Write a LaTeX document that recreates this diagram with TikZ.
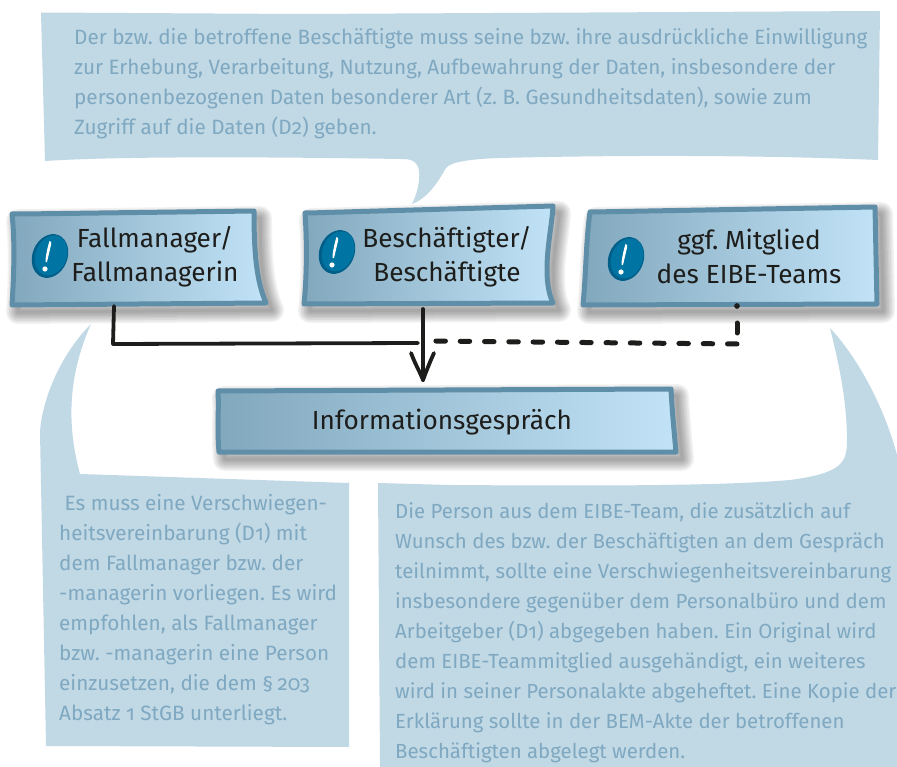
\documentclass[tikz,border=0pt]{standalone}
\usepackage{fontspec}
\setmainfont[Numbers=OldStyle]{Fira Sans}
\usetikzlibrary{calc}
\definecolor{callout}{HTML}{C1D8E5}
\definecolor{calltext}{HTML}{7FA8C1}
\definecolor{boxedge}{HTML}{5F8EA8}
\definecolor{boxl}{HTML}{82A8BD}
\definecolor{boxr}{HTML}{C2E3F7}
\definecolor{ink}{HTML}{1D1D1B}
\definecolor{badge}{HTML}{0075A4}
\definecolor{badgedark}{HTML}{005F88}
\tikzset{
 x=1pt,y=-1pt,
 bubble/.style={fill=callout,draw=none},
 calltxt/.style={text=calltext,font=\fontsize{20.7}{30}\selectfont\frenchspacing,align=left,anchor=north west,inner sep=0pt},
 calltxtsmall/.style={calltxt,font=\fontsize{20.4}{30}\selectfont\frenchspacing},
 boxtxt/.style={text=ink,font=\fontsize{26.2}{34}\selectfont\frenchspacing,align=center,inner sep=0pt},
 boxshape/.style={draw=boxedge,line width=5pt,line join=round,line cap=round,left color=boxl,right color=boxr},
 shadowstroke/.style={draw=black,opacity=0.05,line join=round},
 wire/.style={draw=ink,line width=3.8pt,line cap=round,line join=round},
 dashwire/.style={wire,line width=5pt,dash pattern=on 9.5pt off 14.8pt},
 dashrise/.style={wire,line width=5pt,dash pattern=on 0pt off 17pt on 10pt off 100pt},
}
\newcommand{\softshadow}[1]{%
 \foreach \w in {24,21,18,15,12,9,6,3}{\path[shadowstroke,line width=\w pt,xshift=6pt,yshift=-7pt] #1;}%
}
\newcommand{\alertmark}[1]{%
 \begin{scope}[shift={(#1)}]
  \fill[badgedark,rotate=-22] (0,0) ellipse [x radius=17.5pt,y radius=22.5pt];
  \fill[badge,rotate=-22] (0.8,-1) ellipse [x radius=15.5pt,y radius=20.5pt];
  \fill[white] (-0.5,-15) .. controls (1.5,-15.5) and (1.5,-13) .. (1,-11) -- (-3,6) .. controls (-4,7) and (-4.6,6) .. (-4.5,5) .. controls (-4,-3) and (-2,-10) .. (-0.5,-15) -- cycle;
  \fill[white] (-5,13) circle (2.6pt);
 \end{scope}}
\begin{document}
\begin{tikzpicture}
\useasboundingbox (0,0) rectangle (897,767);
% callouts
\path[bubble] (41,12.5) -- (300,14) -- (880,11) -- (878,160) .. controls (760,155) and (620,155) .. (500,158)
  .. controls (470,159) and (450,162) .. (446,168) .. controls (438,182) and (428,198) .. (412,204)
  .. controls (420,188) and (421,170) .. (417,165) .. controls (414,160) and (410,159) .. (400,159)
  .. controls (280,157) and (120,156) .. (45,161) -- cycle;
\path[bubble] (91,324) .. controls (60,355) and (42,400) .. (40,432) -- (46,746) -- (349,747) -- (349,483) -- (80,474)
  .. controls (68,430) and (66,380) .. (91,324) -- cycle;
\path[bubble] (378,483) -- (450,485) .. controls (600,486) and (720,486) .. (790,480) .. controls (843,473) and (847,462) .. (847,440)
  .. controls (847,400) and (838,360) .. (830,328) .. controls (860,360) and (885,410) .. (897,455) -- (897,767) -- (380,767) -- cycle;
% callout texts
\node[calltxt] (t1) at (74,28.5) {Der bzw. die betroffene Beschäftigte muss seine bzw. ihre ausdrückliche Einwilligung\\zur Erhebung, Verarbeitung, Nutzung, Aufbewahrung der Daten, insbesondere der\\personenbezogenen Daten besonderer Art (z. B. Gesundheitsdaten), sowie zum\\Zugriff auf die Daten (D2) geben.};
\node[calltxt] (t2) at (59,494) {\ Es muss eine Verschwiegen-\\heitsvereinbarung (D1) mit\\dem Fallmanager bzw. der\\-managerin vorliegen. Es wird\\empfohlen, als Fallmanager\\bzw. -managerin eine Person\\einzusetzen, die dem §\hspace{.2em}203\\Absatz 1 StGB unterliegt.};
\node[calltxtsmall] (t3) at (395,502) {Die Person aus dem EIBE-Team, die zusätzlich auf\\Wunsch des bzw. der Beschäftigten an dem Gespräch\\teilnimmt, sollte eine Verschwiegenheitsvereinbarung\\insbesondere gegenüber dem Personalbüro und dem\\Arbeitgeber (D1) abgegeben haben. Ein Original wird\\dem EIBE-Teammitglied ausgehändigt, ein weiteres\\wird in seiner Personalakte abgeheftet. Eine Kopie der\\Erklärung sollte in der BEM-Akte der betroffenen\\Beschäftigten abgelegt werden.};
% box shadows and boxes
\softshadow{(22,214) -- (254,211) .. controls (254,250) and (256,280) .. (266,303) -- (12,305) .. controls (14,275) and (15,240) .. (12,214) -- cycle}
\softshadow{(309,213) -- (553,206) .. controls (552,230) and (540,275) .. (553,303) -- (304,304) .. controls (307,275) and (307,240) .. (305,213) -- cycle}
\softshadow{(592,212) -- (875,207) -- (877,304) -- (583,305) .. controls (586,275) and (586,240) .. (590,212) -- cycle}
\softshadow{(218,391) -- (671,389) .. controls (672,410) and (674,430) .. (676,452) -- (219,452) .. controls (217,430) and (219,410) .. (218,391) -- cycle}
\path[boxshape] (22,214) -- (254,211) .. controls (254,250) and (256,280) .. (266,303) -- (12,305) .. controls (14,275) and (15,240) .. (12,214) -- cycle;
\path[boxshape] (309,213) -- (553,206) .. controls (552,230) and (540,275) .. (553,303) -- (304,304) .. controls (307,275) and (307,240) .. (305,213) -- cycle;
\path[boxshape] (592,212) -- (875,207) -- (877,304) -- (583,305) .. controls (586,275) and (586,240) .. (590,212) -- cycle;
\path[boxshape] (218,391) -- (671,389) .. controls (672,410) and (674,430) .. (676,452) -- (219,452) .. controls (217,430) and (219,410) .. (218,391) -- cycle;
\alertmark{50,256}
\alertmark{337,252}
\alertmark{626,259}
% box labels
\node[boxtxt] (fm) at (155,256.5) {Fallmanager/\\Fallmanagerin};
\node[boxtxt] (be) at (447,256.5) {Beschäftigter/\\Beschäftigte};
\node[boxtxt] (mi) at (749,256.5) {ggf. Mitglied\\des EIBE-Teams};
\node[boxtxt] (ig) at (442,422.5) {Informationsgespräch};
\coordinate (fmout) at (114,306);
\coordinate (beout) at (423,309);
\coordinate (miout) at (737,306);
\coordinate (micorner) at (737,344);
\coordinate (igin) at (423,380);
\coordinate (joinl) at (418,343);
\coordinate (joinr) at (432,341);
% connectors
\draw[wire] (fmout) -- (113,344) -- (joinl);
\draw[wire] (beout) -- (igin);
\draw[wire] (411,353) .. controls (416,366) and (420,372) .. (igin) .. controls (426,372) and (429,364) .. (434,353);
\fill[ink] (miout) circle (2.8pt);
\draw[dashrise] (miout) -- (micorner);
\draw[dashwire] (micorner) -- (joinr);
\end{tikzpicture}
\end{document}
